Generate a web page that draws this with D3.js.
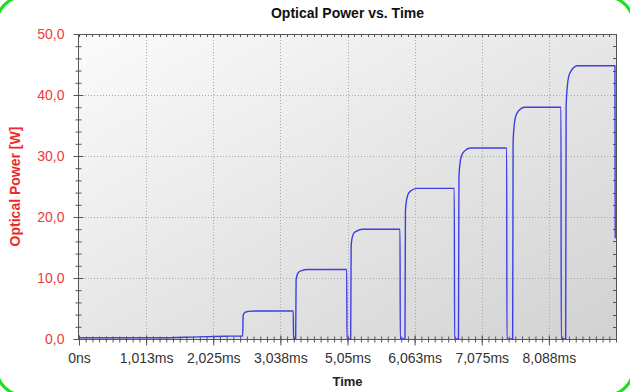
<!DOCTYPE html>
<html><head><meta charset="utf-8">
<script src="https://cdn.jsdelivr.net/npm/d3@7"></script>
<style>html,body{margin:0;padding:0;background:#fff;}svg{display:block;}</style>
</head><body>
<svg id="chart" width="630" height="392"></svg>
<script>
// ---- data ----
const xTickValues = [0, 1.0125, 2.025, 3.0375, 4.05, 5.0625, 6.075, 7.0875];
const xTickLabels = ["0ns", "1,013ms", "2,025ms", "3,038ms", "5,05ms", "6,063ms", "7,075ms", "8,088ms"];
const yTickValues = [0, 10, 20, 30, 40, 50];
const yTickLabels = ["0,0", "10,0", "20,0", "30,0", "40,0", "50,0"];
const timeMs = [
  0, 1.2, 1.8, 2.2, 2.46,
  2.469, 2.476, 2.492, 2.514, 2.56, 2.65, 3.232, 3.236, 3.262,
  3.268, 3.275, 3.291, 3.313, 3.358, 3.448, 4.038, 4.042, 4.092,
  4.098, 4.105, 4.121, 4.143, 4.188, 4.278, 4.842, 4.846, 4.911,
  4.917, 4.924, 4.940, 4.962, 5.007, 5.097, 5.661, 5.665, 5.718,
  5.724, 5.731, 5.747, 5.769, 5.814, 5.904, 6.451, 6.455, 6.535,
  6.541, 6.548, 6.564, 6.586, 6.631, 6.721, 7.270, 7.274, 7.335,
  7.341, 7.348, 7.364, 7.386, 7.431, 7.521, 8.084, 8.088
];
const powerW = [
  0.2, 0.2, 0.35, 0.45, 0.5,
  0.5, 3.9, 4.25, 4.42, 4.52, 4.6, 4.6, 0, 0,
  0, 9.7, 10.5, 10.95, 11.2, 11.4, 11.4, 0, 0,
  0, 15.3, 16.6, 17.3, 17.7, 18.0, 18.0, 0, 0,
  0, 21.0, 22.7, 23.7, 24.3, 24.7, 24.7, 0, 0,
  0, 26.6, 28.8, 30.0, 30.8, 31.3, 31.3, 0, 0,
  0, 32.3, 35.0, 36.5, 37.4, 38.0, 38.0, 0, 0,
  0, 38.1, 41.2, 43.0, 44.1, 44.8, 44.8, 16.5
];
const points = timeMs.map((t, i) => ({t, p: powerW[i]}));

// ---- layout ----
const svg = d3.select("#chart");
const W = 630, H = 392;
const m = {left: 79, right: 616, top: 34, bottom: 339};
const x = d3.scaleLinear().domain([0, 8.1]).range([m.left, m.right]);
const y = d3.scaleLinear().domain([0, 50]).range([m.bottom, m.top]);
const font = "Liberation Sans, Arial, sans-serif";

// gradient background
const defs = svg.append("defs");
const grad = defs.append("linearGradient").attr("id", "bg")
  .attr("x1", "0%").attr("y1", "0%").attr("x2", "100%").attr("y2", "100%");
grad.append("stop").attr("offset", "0%").attr("stop-color", "#fbfbfb");
grad.append("stop").attr("offset", "100%").attr("stop-color", "#d2d2d2");
defs.append("clipPath").attr("id", "clip").append("rect")
  .attr("x", m.left).attr("y", m.top - 2).attr("width", m.right - m.left + 1).attr("height", m.bottom - m.top + 2);

svg.append("rect").attr("x", m.left).attr("y", m.top)
  .attr("width", m.right - m.left).attr("height", m.bottom - m.top)
  .attr("fill", "url(#bg)");

// grid
const grid = svg.append("g").attr("stroke", "#a8a8a8").attr("stroke-width", 1).attr("stroke-dasharray", "1,2");
grid.selectAll(".gx").data(xTickValues.slice(1)).join("line")
  .attr("x1", d => Math.round(x(d)) + 0.5).attr("x2", d => Math.round(x(d)) + 0.5)
  .attr("y1", m.top).attr("y2", m.bottom);
grid.selectAll(".gy").data(yTickValues.slice(1, -1)).join("line")
  .attr("y1", d => Math.round(y(d)) + 0.5).attr("y2", d => Math.round(y(d)) + 0.5)
  .attr("x1", m.left).attr("x2", m.right);

// minor tick values
const xMinor = d3.range(0, 81).map(i => i * 0.10125);
const yMinor = d3.range(0, 26).map(i => i * 2);

const axisColor = "#555";
// top and right frame minor ticks
const frame = svg.append("g").attr("stroke", axisColor).attr("stroke-width", 1);
frame.append("line").attr("x1", m.left).attr("x2", m.right + 0.5).attr("y1", m.top + 0.5).attr("y2", m.top + 0.5);
frame.append("line").attr("x1", m.right + 0.5).attr("x2", m.right + 0.5).attr("y1", m.top).attr("y2", m.bottom);
frame.selectAll(".tt").data(xMinor).join("line")
  .attr("x1", d => Math.round(x(d)) + 0.5).attr("x2", d => Math.round(x(d)) + 0.5)
  .attr("y1", m.top).attr("y2", d => m.top + 3);
frame.selectAll(".rt").data(yMinor).join("line")
  .attr("y1", d => Math.round(y(d)) + 0.5).attr("y2", d => Math.round(y(d)) + 0.5)
  .attr("x1", m.right - 3).attr("x2", m.right);

// data line
const line = d3.line().x(d => x(d.t)).y(d => y(d.p)).curve(d3.curveMonotoneX);
svg.append("path").datum(points)
  .attr("clip-path", "url(#clip)")
  .attr("fill", "none").attr("stroke", "#3e3ee4").attr("stroke-width", 1.4)
  .attr("stroke-linejoin", "round")
  .attr("d", line);

// bottom axis
const xAxisMinor = d3.axisBottom(x).tickValues(xMinor).tickSize(3).tickFormat("");
const gxm = svg.append("g").attr("transform", `translate(0,${m.bottom + 0.5})`).call(xAxisMinor);
gxm.selectAll(".tick line").attr("y1", -3).attr("y2", 3);
const xAxis = d3.axisBottom(x).tickValues(xTickValues).tickSize(6)
  .tickFormat((d, i) => xTickLabels[i]).tickPadding(8);
const gx = svg.append("g").attr("transform", `translate(0,${m.bottom + 0.5})`).call(xAxis);
gx.selectAll(".tick line").attr("y1", -4).attr("y2", 6);
[gxm, gx].forEach(g => {
  g.select(".domain").attr("stroke", axisColor).attr("d", `M${m.left},0H${m.right + 1}`);
  g.selectAll(".tick line").attr("stroke", axisColor);
});
gx.selectAll(".tick text").attr("fill", "#333").attr("font-size", "14px")
  .attr("font-family", font);

// left axis
const yAxisMinor = d3.axisLeft(y).tickValues(yMinor).tickSize(3).tickFormat("");
const gym = svg.append("g").attr("transform", `translate(${m.left - 0.5},0)`).call(yAxisMinor);
gym.selectAll(".tick line").attr("x1", -3).attr("x2", 3);
const yAxis = d3.axisLeft(y).tickValues(yTickValues).tickSize(5)
  .tickFormat((d, i) => yTickLabels[i]).tickPadding(9);
const gy = svg.append("g").attr("transform", `translate(${m.left - 0.5},0)`).call(yAxis);
gy.selectAll(".tick line").attr("x1", -5).attr("x2", 5);
[gym, gy].forEach(g => {
  g.select(".domain").attr("stroke", axisColor).attr("d", `M0,${m.top}V${m.bottom}`);
  g.selectAll(".tick line").attr("stroke", axisColor);
});
gy.selectAll(".tick text").attr("fill", "#f03a3a").attr("font-size", "14px")
  .attr("font-family", font);

// titles
svg.append("text").attr("x", (m.left + m.right) / 2).attr("y", 18)
  .attr("text-anchor", "middle").attr("font-family", font)
  .attr("font-weight", "bold").attr("font-size", "14px").attr("fill", "#111")
  .text("Optical Power vs. Time");
svg.append("text").attr("x", (m.left + m.right) / 2).attr("y", 386)
  .attr("text-anchor", "middle").attr("font-family", font)
  .attr("font-weight", "bold").attr("font-size", "13px").attr("fill", "#222")
  .text("Time");
svg.append("text")
  .attr("transform", `translate(20,${(m.top + m.bottom) / 2}) rotate(-90)`)
  .attr("text-anchor", "middle").attr("font-family", font)
  .attr("font-weight", "bold").attr("font-size", "14px").attr("fill", "#f02828")
  .text("Optical Power [W]");

// green rounded frame (only corners visible)
svg.append("rect").attr("x", -3).attr("y", -3).attr("width", W + 6).attr("height", H + 6)
  .attr("rx", 26).attr("ry", 26)
  .attr("fill", "none").attr("stroke", "#1ee01e").attr("stroke-width", 3);
</script>
</body></html>
